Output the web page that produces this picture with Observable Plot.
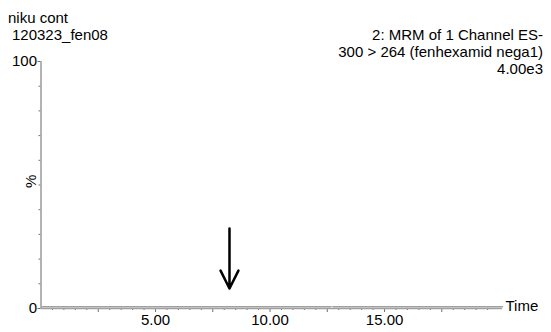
<!DOCTYPE html>
<html>
<head>
<meta charset="utf-8">
<script src="https://cdn.jsdelivr.net/npm/d3@7"></script>
<script src="https://cdn.jsdelivr.net/npm/@observablehq/plot@0.6"></script>
<style>
  html, body { margin: 0; padding: 0; background: #fff; }
  #wrap { position: relative; width: 551px; height: 332px; font-family: "Liberation Sans", Arial, sans-serif; color: #000; }
  .lbl { position: absolute; font-size: 15px; line-height: 17px; white-space: nowrap; }
</style>
</head>
<body>
<div id="wrap">
  <div class="lbl" style="left:8px; top:9px;">niku cont</div>
  <div class="lbl" style="left:12px; top:26px;">120323_fen08</div>
  <div class="lbl" style="right:8px; top:26px; text-align:right;">2: MRM of 1 Channel ES-<br>300 &gt; 264 (fenhexamid nega1)<br>4.00e3</div>
</div>
<script>
// chromatogram trace (time, % intensity) — flat near baseline, small gap near 12.7 min
const times = [0.05, 12.66, 12.74, 20.15];
const intensity = [0.7, 0.7, 0.7, 0.7];
const traceSeg = [0, 0, 1, 1];

// arrow marking the expected retention time
const arrowTime = [8.23];
const arrowTop = [32.4];
const arrowTip = [8.1];

// ticks
const xMinorTicks = [0.5,1,1.5,2,3,3.5,4,4.5,5.5,6,6.5,7,8,8.5,9,9.5,10.5,11,11.5,12,13,13.5,14,14.5,15.5,16,16.5,17,18,18.5,19,19.5];
const xMajorTicks = [2.5, 7.5, 12.5, 17.5];
const xLabelTicks = [5, 10, 15];
const xTickLabels = ["5.00", "10.00", "15.00"];
const yMinorTicks = [10, 20, 30, 40, 50, 60, 70, 80, 90];
const yLabelTicks = [0, 100];
const yTickLabels = ["0", "100"];

const trace = times.map((t, i) => ({t, v: intensity[i], s: traceSeg[i]}));
const arrowData = arrowTime.map((t, i) => ({t, y1: arrowTop[i], y2: arrowTip[i]}));

const axisGray = "#a0a0a0";
const tickGray = "#707070";

const chart = Plot.plot({
  width: 551,
  height: 332,
  marginLeft: 40.5,
  marginTop: 61,
  marginBottom: 24,
  marginRight: 49,
  x: {domain: [0, 20.15], axis: null, label: null},
  y: {domain: [0, 100], axis: null, label: null},
  style: {fontFamily: "'Liberation Sans', Arial, sans-serif", fontSize: "15px", background: "transparent", overflow: "visible"},
  marks: [
    Plot.axisY(yMinorTicks, {tickSize: 2, tickFormat: () => "", stroke: tickGray, label: null}),
    Plot.axisY(yLabelTicks, {tickSize: 3, tickPadding: 1, stroke: tickGray, fill: "#000", fontSize: 15, label: null,
      tickFormat: d => yTickLabels[yLabelTicks.indexOf(d)]}),
    Plot.axisX(xMinorTicks, {tickSize: 2, tickFormat: () => "", stroke: tickGray, label: null}),
    Plot.axisX(xMajorTicks, {tickSize: 4, tickFormat: () => "", stroke: tickGray, label: null}),
    Plot.axisX(xLabelTicks, {tickSize: 4, tickPadding: 2, stroke: tickGray, fill: "#000", fontSize: 15, label: null,
      tickFormat: d => xTickLabels[xLabelTicks.indexOf(d)]}),
    Plot.ruleX([0], {stroke: axisGray, strokeWidth: 1.6}),
    Plot.ruleY([0], {stroke: axisGray, strokeWidth: 1.6}),
    Plot.line(trace, {x: "t", y: "v", z: "s", stroke: axisGray, strokeWidth: 1.4}),
    Plot.arrow(arrowData, {x1: "t", x2: "t", y1: "y1", y2: "y2", stroke: "#000", strokeWidth: 2.5, headLength: 22, headAngle: 53}),
    Plot.text(["Time"], {frameAnchor: "bottom-right", dx: 3, dy: 2, textAnchor: "start", fontSize: 15, fill: "#000"}),
    Plot.text(["%"], {frameAnchor: "left", dx: -10, dy: 3, rotate: -90, fontSize: 15, fill: "#000"})
  ]
});
chart.style.position = "absolute";
chart.style.left = "0px";
chart.style.top = "0px";
document.getElementById("wrap").appendChild(chart);
</script>
</body>
</html>
